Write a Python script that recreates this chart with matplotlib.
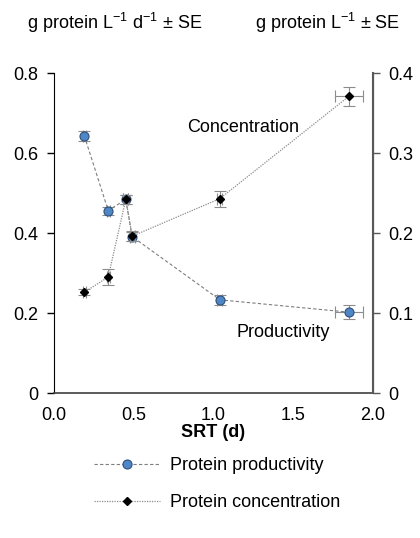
import matplotlib.pyplot as plt
import numpy as np
from matplotlib.lines import Line2D

plt.rcParams['font.family'] = ['Liberation Sans', 'DejaVu Sans']
plt.rcParams['mathtext.fontset'] = 'custom'
plt.rcParams['mathtext.rm'] = 'Liberation Sans'
plt.rcParams['mathtext.default'] = 'regular'

# SRT (d)
srt = [0.19, 0.34, 0.45, 0.49, 1.04, 1.85]
srt_err = [0.01, 0.01, 0.015, 0.015, 0.015, 0.09]

# productivity, g protein L-1 d-1
prod = [0.643, 0.456, 0.484, 0.391, 0.233, 0.202]
prod_err = [0.012, 0.010, 0.012, 0.012, 0.012, 0.018]

# concentration, g protein L-1
conc = [0.126, 0.145, 0.242, 0.196, 0.243, 0.371]
conc_err = [0.004, 0.010, 0.006, 0.006, 0.010, 0.012]

fs = 13

fig = plt.figure(figsize=(4.2, 5.38), dpi=100)
ax = fig.add_axes([0.1286, 0.2695, 0.7594, 0.5948])
ax2 = ax.twinx()

errc = '#8c8c8c'
ax.errorbar(srt, prod, xerr=srt_err, yerr=prod_err, fmt='none', ecolor=errc,
            elinewidth=0.8, capsize=4, capthick=0.8, zorder=2)
ax.plot(srt, prod, ls=(0, (3, 2)), color='#7f7f7f', lw=0.8, marker='o',
        ms=6.5, mfc='#4f86c6', mec='#2d4f7a', mew=0.8, zorder=3)

ax2.errorbar(srt, conc, xerr=srt_err, yerr=conc_err, fmt='none', ecolor=errc,
             elinewidth=0.8, capsize=4, capthick=0.8, zorder=2)
ax2.plot(srt, conc, ls=(0, (1, 1)), color='#8c8c8c', lw=0.9, marker='D',
         ms=4.2, mfc='black', mec='black', zorder=3)

ax.set_xlim(0, 2.0)
ax.set_ylim(0, 0.8)
ax2.set_ylim(0, 0.4)
ax.set_xticks([0, 0.5, 1.0, 1.5, 2.0])
ax.set_xticklabels(['0.0', '0.5', '1.0', '1.5', '2.0'])
ax.set_yticks([0, 0.2, 0.4, 0.6, 0.8])
ax.set_yticklabels(['0', '0.2', '0.4', '0.6', '0.8'])
ax2.set_yticks([0, 0.1, 0.2, 0.3, 0.4])
ax2.set_yticklabels(['0', '0.1', '0.2', '0.3', '0.4'])

ax.tick_params(axis='x', length=0, labelsize=fs, pad=10)
ax.tick_params(axis='y', direction='out', length=5, width=1, labelsize=fs, pad=6)
ax2.tick_params(axis='y', direction='out', length=5, width=1, labelsize=fs,
                pad=6, color='#595959')

for a in (ax, ax2):
    a.spines['top'].set_visible(False)
ax.spines['left'].set_color('black')
ax.spines['bottom'].set_color('#404040')
ax2.spines['right'].set_color('#595959')
ax2.spines['right'].set_linewidth(1.5)
ax.spines['bottom'].set_linewidth(1.2)
ax2.spines['left'].set_visible(False)
ax2.spines['bottom'].set_visible(False)

ax.set_xlabel('SRT (d)', fontsize=fs, fontweight='bold', labelpad=0)

ax.text(1.185, 0.665, 'Concentration', fontsize=fs, ha='center', va='center')
ax.text(1.44, 0.152, 'Productivity', fontsize=fs, ha='center', va='center')

fig.text(0.064, 0.957, 'g protein L$^{-1}$ d$^{-1}$ ± SE', fontsize=fs, va='center')
fig.text(0.607, 0.957, 'g protein L$^{-1}$ ± SE', fontsize=fs, va='center')

handles = [
    Line2D([], [], ls=(0, (3, 2)), color='#7f7f7f', lw=0.8, marker='o', ms=6.5,
           mfc='#4f86c6', mec='#2d4f7a', mew=0.8),
    Line2D([], [], ls=(0, (1, 1)), color='#8c8c8c', lw=0.9, marker='D', ms=4,
           mfc='black', mec='black'),
]
fig.legend(handles, ['Protein productivity', 'Protein concentration'],
           loc='center', bbox_to_anchor=(0.517, 0.1), frameon=False,
           fontsize=fs, handlelength=3.7, handletextpad=0.55, labelspacing=1.1)

fig.savefig('out.png', dpi=100)
